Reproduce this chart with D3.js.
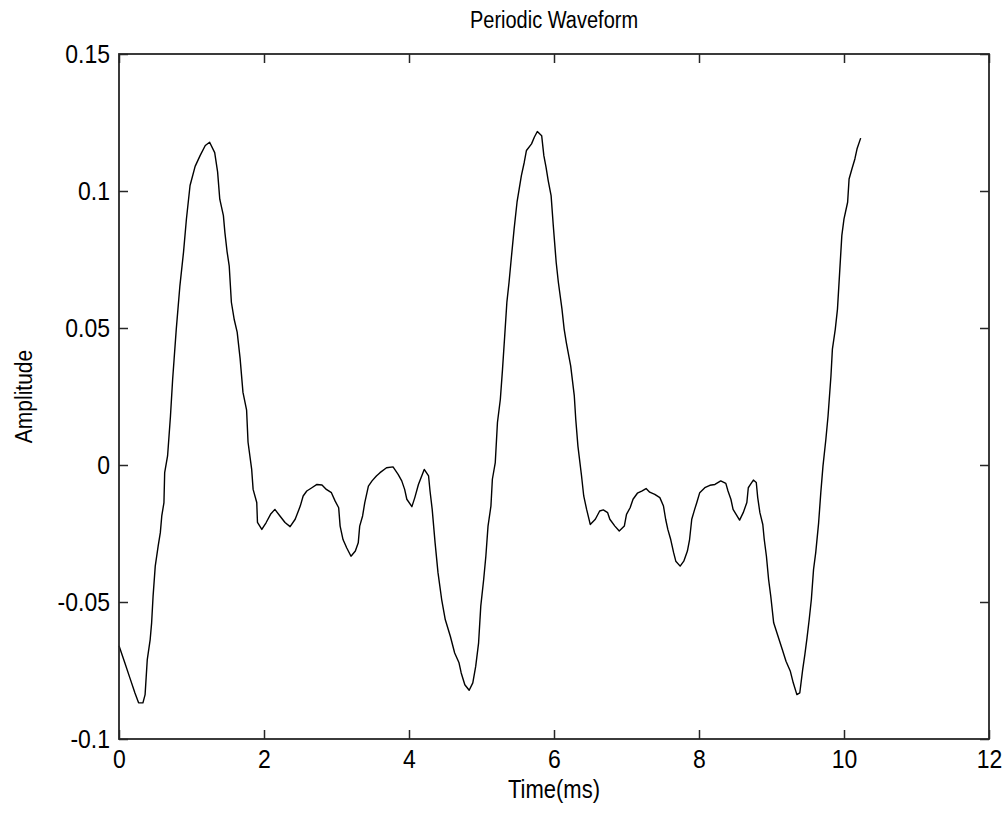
<!DOCTYPE html>
<html>
<head>
<meta charset="utf-8">
<script src="https://cdn.jsdelivr.net/npm/d3@7/dist/d3.min.js"></script>
<style>
  html, body { margin: 0; padding: 0; background: #fff; }
  svg { display: block; }
  text { font-family: "Liberation Sans", Arial, sans-serif; fill: #000; }
  text.tall { transform-box: fill-box; transform-origin: center; transform: scaleY(1.15); }
</style>
</head>
<body>
<svg id="chart" width="1008" height="814"></svg>
<script>
const title = "Periodic Waveform";
const xLabel = "Time(ms)";
const yLabel = "Amplitude";
const xTicks = [0, 2, 4, 6, 8, 10, 12];
const yTicks = [-0.1, -0.05, 0, 0.05, 0.1, 0.15];
const yTickLabels = ["-0.1", "-0.05", "0", "0.05", "0.1", "0.15"];

const time = [0.00,0.08,0.15,0.22,0.27,0.33,0.36,0.39,0.43,0.45,0.47,0.50,0.54,0.57,0.59,0.62,0.63,0.67,0.69,0.71,0.74,0.76,0.79,0.84,0.89,0.93,0.98,1.05,1.12,1.19,1.25,1.32,1.36,1.39,1.44,1.46,1.49,1.52,1.55,1.59,1.63,1.67,1.71,1.76,1.78,1.83,1.85,1.90,1.91,1.97,2.03,2.09,2.15,2.22,2.29,2.36,2.43,2.50,2.54,2.59,2.66,2.73,2.80,2.86,2.93,2.98,3.03,3.05,3.09,3.14,3.20,3.26,3.30,3.32,3.36,3.39,3.44,3.49,3.55,3.60,3.69,3.78,3.85,3.90,3.94,3.97,4.04,4.08,4.13,4.21,4.27,4.29,4.32,4.36,4.40,4.45,4.50,4.57,4.63,4.69,4.72,4.77,4.83,4.88,4.92,4.96,4.99,5.03,5.06,5.09,5.13,5.15,5.19,5.22,5.26,5.29,5.32,5.35,5.38,5.41,5.45,5.49,5.52,5.55,5.59,5.62,5.69,5.73,5.77,5.83,5.86,5.89,5.92,5.96,5.99,6.03,6.06,6.11,6.14,6.17,6.23,6.28,6.30,6.33,6.38,6.41,6.45,6.50,6.57,6.63,6.68,6.74,6.77,6.84,6.90,6.97,7.00,7.05,7.09,7.15,7.21,7.27,7.32,7.39,7.46,7.51,7.54,7.57,7.61,7.65,7.68,7.74,7.79,7.84,7.87,7.90,7.94,7.97,8.01,8.08,8.15,8.22,8.30,8.37,8.40,8.44,8.47,8.56,8.61,8.66,8.68,8.71,8.75,8.79,8.81,8.84,8.88,8.90,8.93,8.96,8.99,9.03,9.09,9.15,9.20,9.26,9.30,9.35,9.39,9.43,9.46,9.49,9.52,9.55,9.58,9.61,9.65,9.68,9.71,9.75,9.78,9.82,9.84,9.88,9.91,9.94,9.97,10.00,10.05,10.07,10.11,10.15,10.18,10.23];

const amplitude = [-0.066,-0.0722,-0.0777,-0.0832,-0.0868,-0.0868,-0.0838,-0.071,-0.0637,-0.0576,-0.0479,-0.0369,-0.0296,-0.0247,-0.0186,-0.0137,-0.0028,0.0033,0.0106,0.0179,0.0313,0.0386,0.0496,0.0654,0.0777,0.0898,0.102,0.109,0.113,0.1166,0.1178,0.114,0.107,0.097,0.091,0.085,0.078,0.0727,0.0594,0.053,0.0485,0.039,0.0265,0.020,0.0083,-0.0016,-0.0089,-0.0137,-0.0209,-0.0235,-0.021,-0.018,-0.0162,-0.0186,-0.021,-0.0225,-0.0198,-0.015,-0.0113,-0.0095,-0.0083,-0.0071,-0.0073,-0.0089,-0.0101,-0.0131,-0.0156,-0.0223,-0.0272,-0.0302,-0.0333,-0.0314,-0.0284,-0.0223,-0.0186,-0.0137,-0.0077,-0.0058,-0.004,-0.0028,-0.001,-0.0007,-0.0034,-0.0058,-0.0089,-0.0125,-0.0152,-0.0119,-0.0071,-0.0016,-0.004,-0.0095,-0.0162,-0.0284,-0.0393,-0.049,-0.0564,-0.0625,-0.0686,-0.0722,-0.0759,-0.0802,-0.0822,-0.0795,-0.0735,-0.0649,-0.0515,-0.0418,-0.0333,-0.0223,-0.015,-0.0052,0.0009,0.0155,0.024,0.035,0.0471,0.0594,0.0667,0.0752,0.0862,0.0959,0.1008,0.1056,0.1105,0.1148,0.1172,0.1197,0.1217,0.1202,0.1129,0.1087,0.1038,0.0983,0.0874,0.074,0.0667,0.0569,0.0496,0.0447,0.0362,0.0252,0.0167,0.0069,-0.004,-0.0113,-0.0162,-0.0217,-0.0198,-0.0168,-0.0164,-0.0174,-0.0198,-0.0223,-0.0241,-0.0223,-0.018,-0.0156,-0.0125,-0.0103,-0.0095,-0.0086,-0.0099,-0.0107,-0.0119,-0.015,-0.0198,-0.0235,-0.0272,-0.032,-0.0351,-0.0369,-0.0351,-0.0314,-0.0272,-0.0198,-0.0162,-0.0137,-0.0101,-0.0083,-0.0074,-0.0071,-0.0058,-0.0067,-0.0095,-0.0125,-0.0162,-0.0201,-0.0174,-0.0137,-0.0083,-0.0071,-0.0055,-0.0064,-0.0119,-0.0174,-0.0217,-0.0272,-0.0333,-0.0418,-0.0479,-0.0576,-0.0625,-0.0674,-0.0716,-0.0753,-0.0795,-0.0838,-0.0832,-0.0747,-0.0692,-0.0631,-0.0564,-0.049,-0.0381,-0.032,-0.0211,-0.0101,-0.0004,0.0094,0.0179,0.0325,0.0423,0.0496,0.0569,0.0703,0.0837,0.0898,0.0959,0.1044,0.1081,0.1117,0.1154,0.1193];

const W = 1008, H = 814;
const margin = { top: 54, right: 19, bottom: 75, left: 119 };
const iw = W - margin.left - margin.right;
const ih = H - margin.top - margin.bottom;

const svg = d3.select("#chart");
const g = svg.append("g").attr("transform", `translate(${margin.left},${margin.top})`);

const x = d3.scaleLinear().domain([0, 12]).range([0, iw]);
const y = d3.scaleLinear().domain([-0.1, 0.15]).range([ih, 0]);

const tickLen = 9;
const axisColor = "#262626";
const tickFont = 23;

// Line
const data = time.map((t, i) => [t, amplitude[i]]);
g.append("path")
  .datum(data)
  .attr("fill", "none")
  .attr("stroke", "#000")
  .attr("stroke-width", 1.4)
  .attr("stroke-linejoin", "round")
  .attr("d", d3.line().x(d => x(d[0])).y(d => y(d[1])));

// Axes (inward ticks, boxed)
const fmtY = (d) => yTickLabels[yTicks.indexOf(d)];
const axBottom = g.append("g").attr("transform", `translate(0,${ih})`)
  .call(d3.axisBottom(x).tickValues(xTicks).tickSizeInner(-tickLen).tickSizeOuter(0).tickPadding(12).tickFormat(d3.format("d")));
const axTop = g.append("g")
  .call(d3.axisTop(x).tickValues(xTicks).tickSizeInner(-tickLen).tickSizeOuter(0).tickFormat(""));
const axLeft = g.append("g")
  .call(d3.axisLeft(y).tickValues(yTicks).tickSizeInner(-tickLen).tickSizeOuter(0).tickPadding(9).tickFormat(fmtY));
const axRight = g.append("g").attr("transform", `translate(${iw},0)`)
  .call(d3.axisRight(y).tickValues(yTicks).tickSizeInner(-tickLen).tickSizeOuter(0).tickFormat(""));

[axBottom, axTop, axLeft, axRight].forEach(a => {
  a.select(".domain").remove();
  a.selectAll(".tick line").attr("stroke", axisColor).attr("stroke-width", 1.5);
  a.selectAll(".tick text").attr("class", "tall").attr("font-size", tickFont).attr("font-family", "Liberation Sans, Arial, sans-serif").attr("fill", "#000");
});

// Box
g.append("rect")
  .attr("x", 0).attr("y", 0).attr("width", iw).attr("height", ih)
  .attr("fill", "none").attr("stroke", axisColor).attr("stroke-width", 1.8);

// Title
svg.append("text")
  .attr("class", "tall")
  .attr("x", margin.left + iw / 2).attr("y", 27)
  .attr("text-anchor", "middle").attr("font-size", 20)
  .text(title);

// X label
svg.append("text")
  .attr("class", "tall")
  .attr("x", margin.left + iw / 2).attr("y", 797)
  .attr("text-anchor", "middle").attr("font-size", 22)
  .text(xLabel);

// Y label
svg.append("g")
  .attr("transform", `translate(31,${margin.top + ih / 2}) rotate(-90)`)
  .append("text")
  .attr("class", "tall")
  .attr("text-anchor", "middle").attr("font-size", 21)
  .text(yLabel);
</script>
</body>
</html>
